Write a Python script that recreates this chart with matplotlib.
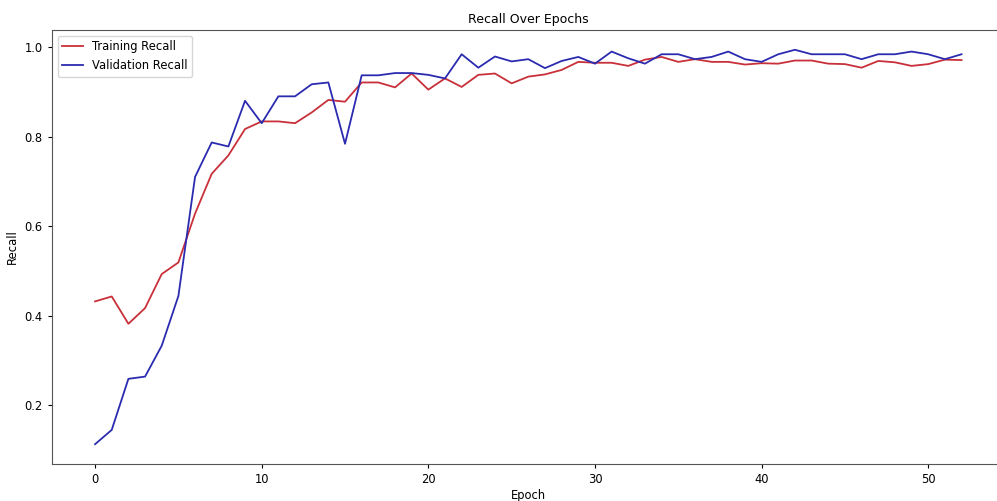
import matplotlib
matplotlib.use("Agg")
import matplotlib.pyplot as plt

epochs = list(range(53))
train_recall = [0.432, 0.443, 0.382, 0.417, 0.493, 0.519, 0.628, 0.717, 0.758, 0.817,
                0.834, 0.834, 0.830, 0.854, 0.882, 0.878, 0.921, 0.921, 0.910, 0.941,
                0.905, 0.930, 0.911, 0.938, 0.941, 0.919, 0.934, 0.939, 0.949, 0.967,
                0.965, 0.965, 0.958, 0.972, 0.978, 0.967, 0.973, 0.967, 0.967, 0.961,
                0.964, 0.963, 0.970, 0.970, 0.963, 0.962, 0.954, 0.969, 0.966, 0.958,
                0.962, 0.972, 0.971]
val_recall = [0.113, 0.145, 0.259, 0.264, 0.333, 0.444, 0.710, 0.787, 0.778, 0.880,
              0.830, 0.890, 0.890, 0.917, 0.921, 0.784, 0.937, 0.937, 0.942, 0.942,
              0.938, 0.930, 0.984, 0.954, 0.979, 0.968, 0.973, 0.953, 0.969, 0.978,
              0.963, 0.990, 0.975, 0.963, 0.984, 0.984, 0.973, 0.978, 0.990, 0.973,
              0.967, 0.984, 0.994, 0.984, 0.984, 0.984, 0.973, 0.984, 0.984, 0.990,
              0.984, 0.973, 0.984]

fs = 8.3
fig = plt.figure(figsize=(9.97, 5.01), dpi=100)
ax = fig.add_axes([0.0519, 0.074, 0.956, 0.866])
ax.plot(epochs, train_recall, color="#c8303a", lw=1.3, label="Training Recall")
ax.plot(epochs, val_recall, color="#2b2bb0", lw=1.3, label="Validation Recall")
ax.set_title("Recall Over Epochs", fontsize=fs + 0.7, pad=5)
ax.set_xlabel("Epoch", fontsize=fs, labelpad=2)
ax.set_ylabel("Recall", fontsize=fs, labelpad=4)
ax.tick_params(labelsize=fs, length=3)
ax.set_xticks([0, 10, 20, 30, 40, 50])
ax.set_yticks([0.2, 0.4, 0.6, 0.8, 1.0])
ax.legend(loc="upper left", fontsize=fs, handlelength=1.8)
for s in ax.spines.values():
    s.set_color("#555555")
ax.spines["right"].set_visible(False)
fig.savefig("out.png", dpi=100)
